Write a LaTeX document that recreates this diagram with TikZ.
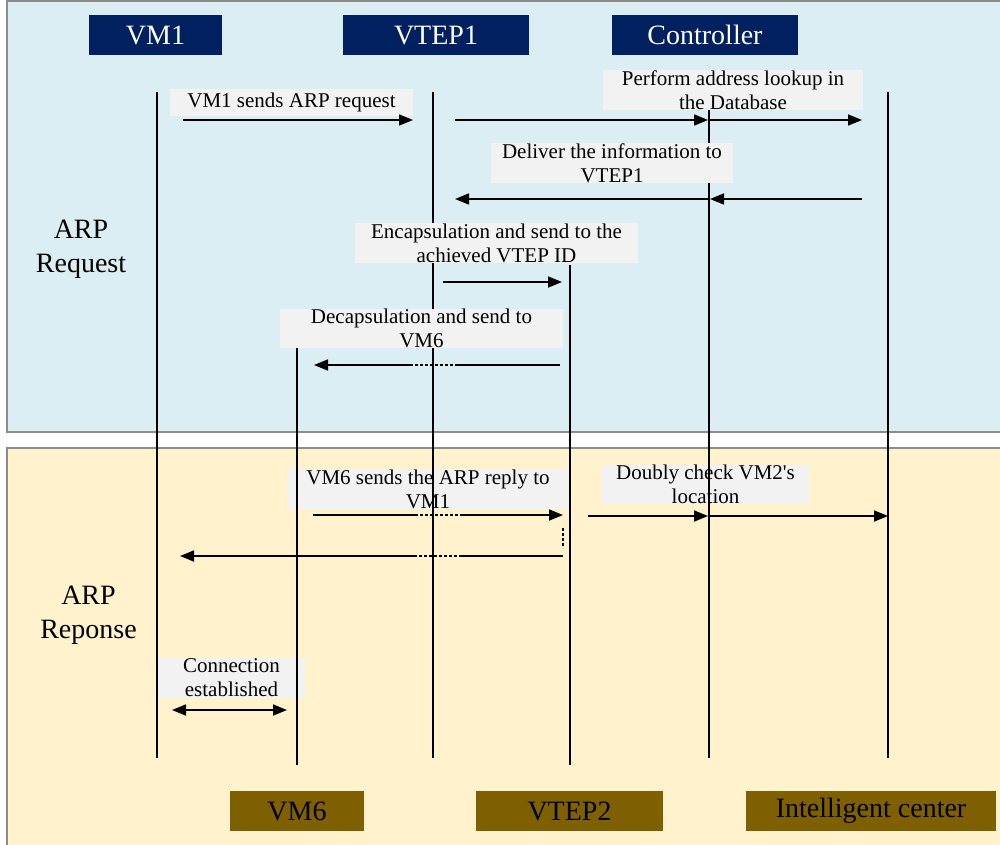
\documentclass[tikz,border=0pt]{standalone}
\usepackage{fontspec}
\setmainfont{Liberation Serif}
\usetikzlibrary{arrows.meta}
\definecolor{topbg}{HTML}{DAEEF3}
\definecolor{botbg}{HTML}{FFF2CC}
\definecolor{navyc}{HTML}{002060}
\definecolor{olivec}{HTML}{7F6000}
\definecolor{lblc}{HTML}{F2F2F2}
\definecolor{framec}{HTML}{8C8C8C}
\tikzset{
 panel/.style={draw=framec, line width=1.2pt},
 hdr/.style={fill=navyc, text=white, font=\fontsize{28}{30}\selectfont, inner sep=0pt, minimum height=40pt},
 ftr/.style={fill=olivec, text=black, font=\fontsize{28}{30}\selectfont, inner sep=0pt, minimum height=40pt},
 lbl/.style={fill=lblc, inner sep=0pt, align=center, font=\fontsize{21}{24}\selectfont},
 life/.style={line width=2pt},
 msg/.style={line width=1.7pt, -{Triangle[length=14pt,width=11pt]}},
 dmsg/.style={line width=1.7pt, {Triangle[length=14pt,width=11pt]}-{Triangle[length=14pt,width=11pt]}},
 seg/.style={line width=1.7pt},
 dots/.style={line width=1.7pt, dash pattern=on 3pt off 2pt},
 side/.style={font=\fontsize{28}{34}\selectfont, align=center}
}
\begin{document}
\begin{tikzpicture}[x=1pt,y=-1pt]
\useasboundingbox (0,0) rectangle (1000,844);
\fill[white] (0,0) rectangle (1000,844);
% panels
\draw[panel, fill=topbg] (7,1) rectangle (1006,432);
\draw[panel, fill=botbg] (7,448) rectangle (1006,850);
% bottom-panel labels (under the lifelines)
\node[lbl, minimum width=280pt, minimum height=40pt] (reply) at (428,489) {VM6 sends the ARP reply to\\VM1};
\node[lbl, minimum width=207pt, minimum height=39pt] (doubly) at (705.5,484.5) {Doubly check VM2\textquotesingle s\\location};
\node[lbl, minimum width=147pt, minimum height=40pt] (conn) at (231.5,678) {Connection\\established};
% lifelines
\coordinate (l1t) at (157,92);  \coordinate (l1b) at (157,758);
\coordinate (l2t) at (433,92);  \coordinate (l2b) at (433,758);
\coordinate (l3t) at (709,110); \coordinate (l3b) at (709,758);
\coordinate (l4t) at (888,92);  \coordinate (l4b) at (888,758);
\coordinate (l5t) at (297,348); \coordinate (l5b) at (297,765);
\coordinate (l6t) at (570,265); \coordinate (l6b) at (570,765);
\draw[life] (l1t) -- (l1b);
\draw[life] (l2t) -- (l2b);
\draw[life] (l3t) -- (l3b);
\draw[life] (l4t) -- (l4b);
\draw[life] (l5t) -- (l5b);
\draw[life] (l6t) -- (l6b);
% top-panel labels (over the lifelines)
\node[lbl, minimum width=243pt, minimum height=27pt] (req) at (291.5,102.5) {VM1 sends ARP request};
\node[lbl, minimum width=260pt, minimum height=40pt] (perf) at (733,90) {Perform address lookup in\\the Database};
\node[lbl, minimum width=242pt, minimum height=40pt] (deliv) at (612,163) {Deliver the information to\\VTEP1};
\node[lbl, minimum width=283pt, minimum height=40pt] (encap) at (496.5,243) {Encapsulation and send to the\\achieved VTEP ID};
\node[lbl, minimum width=283pt, minimum height=39pt] (decap) at (421.5,328.5) {Decapsulation and send to\\VM6};
% headers and footers
\node[hdr, minimum width=133pt] (vm1) at (155.5,35) {VM1};
\node[hdr, minimum width=186pt] (vtep1) at (436,35) {VTEP1};
\node[hdr, minimum width=186pt] (ctrl) at (705,35) {Controller};
\node[ftr, minimum width=134pt] (vm6) at (297,811) {VM6};
\node[ftr, minimum width=187pt] (vtep2) at (569.5,811) {VTEP2};
\node[ftr, minimum width=250pt] (ic) at (871,811) {Intelligent center};
% side labels
\node[side] (sreq) at (81,249) {ARP\\Request};
\node[side] (sres) at (88.5,615) {ARP\\Reponse};
% messages
\coordinate (m1a) at (183,120); \coordinate (m1b) at (413,120);
\draw[msg] (m1a) -- (m1b);
\coordinate (m2a) at (455,120); \coordinate (m2b) at (708,120); \coordinate (m2c) at (710,120); \coordinate (m2d) at (862,120);
\draw[msg] (m2a) -- (m2b);
\draw[msg] (m2c) -- (m2d);
\coordinate (m3a) at (862,199); \coordinate (m3b) at (710,199); \coordinate (m3c) at (708,199); \coordinate (m3d) at (455,199);
\draw[msg] (m3a) -- (m3b);
\draw[msg] (m3c) -- (m3d);
\coordinate (m4a) at (443,282); \coordinate (m4b) at (562,282);
\draw[msg] (m4a) -- (m4b);
\coordinate (m5a) at (560,365); \coordinate (m5b) at (458,365); \coordinate (m5c) at (410,365); \coordinate (m5d) at (314,365);
\draw[seg] (m5a) -- (m5b);
\draw[dots] (m5b) -- (m5c);
\draw[msg] (m5c) -- (m5d);
\coordinate (m6a) at (313,515); \coordinate (m6b) at (415,515); \coordinate (m6c) at (460,515); \coordinate (m6d) at (563,515);
\draw[seg] (m6a) -- (m6b);
\draw[dots] (m6b) -- (m6c);
\draw[msg] (m6c) -- (m6d);
\coordinate (m7a) at (563,528); \coordinate (m7b) at (563,548);
\draw[dots] (m7a) -- (m7b);
\coordinate (m8a) at (563,556); \coordinate (m8b) at (462,556); \coordinate (m8c) at (417,556); \coordinate (m8d) at (180,556);
\draw[seg] (m8a) -- (m8b);
\draw[dots] (m8b) -- (m8c);
\draw[msg] (m8c) -- (m8d);
\coordinate (m9a) at (588,516); \coordinate (m9b) at (708,516); \coordinate (m9c) at (710,516); \coordinate (m9d) at (888,516);
\draw[msg] (m9a) -- (m9b);
\draw[msg] (m9c) -- (m9d);
\coordinate (c1) at (172,710); \coordinate (c2) at (287,710);
\draw[dmsg] (c1) -- (c2);
\end{tikzpicture}
\end{document}
